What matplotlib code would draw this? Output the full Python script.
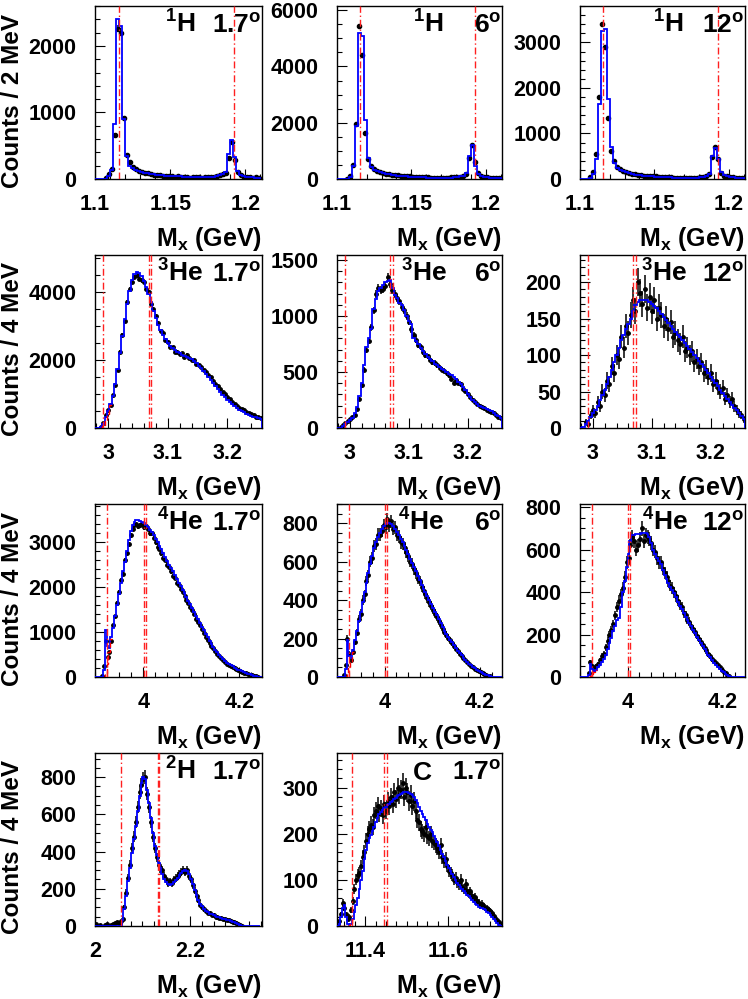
import numpy as np
import matplotlib.pyplot as plt
from matplotlib.ticker import MultipleLocator, FixedLocator

plt.rcParams.update({
    "font.family": ["Liberation Sans", "DejaVu Sans"],
    "font.weight": "bold",
    "mathtext.fontset": "custom",
    "mathtext.rm": "Liberation Sans:bold",
    "mathtext.it": "Liberation Sans:bold",
    "mathtext.bf": "Liberation Sans:bold",
    "mathtext.sf": "Liberation Sans:bold",
})

# ---------------- data (counts per bin) ----------------
# 1H target, 2 MeV bins from 1.100 GeV
h1_x0 = 1.100
h1_17_model = [0, 0, 0, 5, 40, 130, 820, 2400, 2300, 900,
               350, 200, 160, 140, 120, 105, 95, 85, 78, 72,
               66, 60, 56, 52, 48, 45, 42, 40, 38, 36,
               34, 32, 31, 30, 30, 30, 31, 32, 34, 37,
               42, 55, 70, 100, 370, 590, 330, 120, 60, 40,
               32, 28, 25, 22, 20]
h1_17_data = [0, 0, 0, 10, 70, 145, 660, 2260, 2190, 915,
              355, 255, 175, 150, 125, 110, 95, 85, 75, 65,
              55, 60, 50, 50, 40, 45, 35, 40, 30, 25,
              30, 20, 30, 25, 30, 20, 25, 30, 25, 35,
              40, 60, 80, 90, 320, 560, 290, 100, 55, 35,
              30, 25, 20, 25, 15]
h1_6_model = [0, 0, 0, 10, 60, 450, 1900, 5200, 5100, 2100,
              750, 420, 330, 280, 240, 210, 185, 165, 150, 135,
              122, 110, 100, 92, 85, 78, 72, 66, 61, 57,
              53, 50, 48, 46, 45, 45, 46, 48, 52, 58,
              70, 90, 120, 200, 800, 1200, 450, 180, 100, 70,
              55, 45, 40, 36, 33]
h1_6_data = [0, 0, 0, 15, 100, 480, 1950, 5450, 4400, 1650,
             700, 450, 340, 290, 250, 220, 190, 170, 150, 140,
             125, 115, 100, 95, 90, 80, 75, 65, 60, 55,
             55, 50, 45, 48, 40, 45, 50, 45, 55, 60,
             65, 85, 110, 180, 750, 1200, 600, 200, 110, 75,
             60, 45, 40, 35, 30]
h1_12_model = [0, 0, 0, 20, 100, 450, 1650, 3250, 3300, 1750,
               700, 350, 250, 200, 170, 145, 125, 110, 98, 88,
               80, 72, 66, 60, 55, 50, 46, 42, 39, 36,
               33, 31, 29, 27, 26, 25, 25, 26, 28, 31,
               37, 45, 60, 120, 500, 680, 450, 150, 80, 55,
               42, 35, 30, 27, 25]
h1_12_data = [0, 0, 0, 40, 150, 550, 1800, 3400, 2900, 1350,
              620, 400, 260, 210, 175, 150, 130, 115, 100, 90,
              80, 75, 65, 60, 55, 55, 45, 40, 40, 35,
              35, 30, 30, 25, 25, 25, 30, 25, 30, 30,
              35, 45, 55, 100, 480, 700, 430, 140, 75, 55,
              40, 35, 30, 25, 25]

# 3He target, 4 MeV bins from 2.978 GeV
he3_x0 = 2.978
he3_17_model = [0, 0, 20, 120, 330, 500, 700, 950, 1300, 1750,
                2200, 2700, 3200, 3650, 4050, 4350, 4550, 4600, 4580, 4480,
                4330, 4150, 3950, 3700, 3450, 3250, 3050, 2900, 2750, 2620,
                2520, 2430, 2350, 2290, 2240, 2200, 2160, 2130, 2100, 2060,
                2020, 1970, 1910, 1840, 1760, 1680, 1600, 1500, 1410, 1320,
                1230, 1140, 1060, 980, 900, 830, 760, 700, 640, 590,
                540, 500, 460, 420, 390, 360, 330, 310, 290, 270]
he3_17_data = [0, 0, 30, 150, 380, 520, 680, 980, 1280, 1700,
               2250, 2750, 3150, 3700, 4100, 4300, 4450, 4500, 4400, 4350,
               4300, 4100, 4000, 3650, 3500, 3300, 3100, 2850, 2800, 2600,
               2550, 2400, 2380, 2250, 2250, 2180, 2200, 2100, 2150, 2050,
               2000, 2000, 1900, 1850, 1800, 1700, 1650, 1550, 1500, 1400,
               1300, 1250, 1150, 1050, 1000, 920, 850, 780, 700, 660,
               600, 560, 520, 480, 440, 400, 370, 330, 310, 290]
he3_17_red = [0, 50, 200, 420, 680]
he3_17_red_x0 = 2.986
he3_6_model = [0, 0, 15, 40, 55, 70, 90, 130, 190, 290,
               400, 560, 720, 800, 880, 1060, 1150, 1220, 1250, 1280,
               1300, 1310, 1320, 1250, 1190, 1160, 1120, 1100, 1050, 1000,
               960, 930, 800, 780, 750, 710, 690, 660, 635, 615,
               595, 575, 560, 545, 530, 515, 500, 485, 470, 455,
               440, 415, 390, 365, 335, 300, 275, 250, 230, 215,
               200, 190, 180, 170, 160, 150, 135, 120, 105, 90]
he3_6_data = [0, 10, 30, 45, 60, 80, 100, 120, 170, 260,
              380, 520, 700, 780, 900, 1050, 1200, 1250, 1230, 1240,
              1270, 1350, 1290, 1230, 1200, 1160, 1130, 1080, 1050, 1000,
              950, 880, 830, 790, 740, 720, 680, 650, 640, 610,
              590, 580, 560, 540, 520, 510, 490, 470, 440, 400,
              430, 400, 390, 350, 330, 300, 280, 250, 230, 210,
              200, 190, 180, 165, 155, 140, 130, 115, 100, 90]
he3_12_model = [0, 2, 5, 10, 15, 20, 25, 30, 38, 45,
                52, 60, 70, 80, 90, 100, 110, 120, 128, 135,
                142, 150, 160, 168, 172, 175, 176, 176, 175, 173,
                170, 167, 164, 160, 156, 152, 148, 144, 140, 136,
                132, 128, 124, 120, 116, 112, 108, 104, 100, 96,
                92, 88, 84, 80, 75, 70, 66, 62, 57, 52,
                48, 44, 40, 36, 32, 28, 24, 20, 16, 13]
he3_12_data = [0, 0, 8, 5, 18, 25, 20, 35, 30, 50,
               45, 65, 60, 85, 75, 100, 95, 125, 110, 140,
               130, 155, 175, 160, 200, 185, 170, 190, 165, 180,
               160, 175, 150, 165, 155, 140, 150, 135, 145, 125,
               130, 120, 115, 125, 105, 110, 100, 105, 90, 95,
               85, 90, 75, 80, 70, 75, 60, 65, 55, 50,
               55, 40, 45, 35, 40, 30, 25, 20, 18, 12]

# 4He target, 4 MeV bins from 3.900 GeV
he4_x0 = 3.900
he4_17_model = [0, 0, 0, 0, 150, 1050, 700, 650, 880, 1100,
                1350, 1600, 1850, 2100, 2350, 2550, 2800, 3050, 3250, 3380,
                3450, 3500, 3490, 3470, 3450, 3420, 3380, 3330, 3280, 3220,
                3150, 3080, 3000, 2920, 2840, 2750, 2670, 2580, 2500, 2420,
                2350, 2260, 2180, 2100, 2020, 1940, 1860, 1780, 1700, 1620,
                1530, 1450, 1360, 1280, 1200, 1120, 1040, 960, 880, 810,
                740, 670, 610, 550, 500, 450, 400, 360, 320, 290,
                260, 235, 210, 185, 165, 145, 125, 105, 90, 75,
                60, 45, 30, 20, 10, 0, 0]
he4_17_data = [0, 0, 0, 30, 250, 800, 450, 550, 800, 1150,
               1350, 1650, 1900, 2150, 2300, 2600, 2750, 2950, 3150, 3300,
               3380, 3400, 3350, 3380, 3400, 3330, 3350, 3300, 3200, 3200,
               3100, 3000, 2900, 2850, 2750, 2650, 2600, 2500, 2450, 2350,
               2250, 2200, 2100, 2050, 1950, 1900, 1800, 1720, 1650, 1550,
               1480, 1400, 1300, 1220, 1150, 1060, 980, 900, 830, 760,
               700, 640, 580, 520, 470, 420, 380, 340, 300, 270,
               240, 220, 195, 175, 150, 135, 115, 100, 85, 70,
               55, 40, 30, 20, 10, 0, 0]
he4_17_red = [0, 100, 300, 550, 850]
he4_6_model = [0, 0, 0, 0, 40, 190, 110, 100, 140, 190,
               240, 290, 340, 390, 440, 490, 540, 590, 630, 670,
               700, 730, 750, 770, 785, 795, 800, 800, 795, 785,
               770, 755, 740, 720, 700, 680, 660, 640, 615, 595,
               570, 550, 525, 505, 480, 460, 440, 420, 400, 380,
               360, 340, 320, 300, 280, 260, 240, 225, 210, 195,
               180, 165, 150, 137, 125, 112, 100, 90, 80, 70,
               60, 52, 45, 38, 32, 26, 21, 16, 12, 8,
               5, 2, 0, 0, 0, 0, 0]
he4_6_data = [0, 0, 0, 10, 60, 200, 120, 90, 130, 180,
              230, 300, 330, 400, 430, 500, 530, 600, 620, 680,
              690, 740, 740, 760, 790, 780, 820, 790, 810, 770,
              780, 740, 730, 700, 690, 670, 650, 630, 600, 590,
              560, 540, 510, 500, 470, 450, 430, 410, 390, 370,
              350, 330, 310, 290, 270, 250, 235, 220, 205, 190,
              175, 160, 148, 135, 122, 110, 98, 88, 78, 68,
              58, 50, 43, 36, 30, 24, 19, 14, 10, 6,
              3, 0, 0, 0, 0, 0, 0]
he4_6_red = [0, 20, 50, 80, 130]
he4_12_model = [0, 0, 0, 0, 10, 60, 40, 30, 35, 45,
                55, 70, 85, 105, 130, 160, 185, 215, 240, 270,
                280, 330, 400, 450, 520, 580, 640, 670, 670, 672,
                675, 675, 678, 680, 680, 675, 660, 630, 600, 580,
                560, 545, 530, 505, 480, 460, 445, 425, 410, 395,
                375, 355, 335, 320, 300, 285, 270, 255, 240, 220,
                205, 190, 175, 160, 145, 130, 120, 105, 95, 80,
                68, 58, 48, 38, 30, 22, 15, 9, 4, 0,
                0, 0, 0, 0, 0, 0, 0]
he4_12_data = [0, 0, 0, 0, 20, 70, 50, 40, 50, 60,
               80, 100, 110, 140, 170, 200, 220, 250, 290, 330,
               360, 390, 420, 470, 540, 560, 620, 660, 640, 600,
               620, 650, 700, 640, 670, 660, 650, 630, 600, 590,
               560, 540, 540, 510, 490, 470, 450, 430, 420, 400,
               380, 360, 340, 330, 300, 290, 270, 260, 240, 225,
               210, 195, 180, 165, 150, 135, 125, 110, 100, 85,
               75, 65, 55, 45, 35, 25, 18, 10, 5, 0,
               0, 0, 0, 0, 0, 0, 0]
he4_12_red = [0, 5, 12, 22, 33]
he4_red_x0 = 3.916

# 2H target, 4 MeV bins from 2.000 GeV
h2_x0 = 2.000
h2_17_model = [0] * 14 + [
    30, 90, 160, 240, 310, 390, 470, 540, 620, 700,
    770, 800, 790, 730, 660, 580, 500, 430, 380, 340,
    310, 280, 255, 235, 225, 220, 225, 235, 245, 260,
    275, 285, 295, 300, 295, 280, 255, 225, 195, 165,
    140, 120, 105, 92, 82, 74, 67, 62, 57, 53,
    49, 46, 43, 40, 37, 34, 31, 28, 24, 20,
    16, 11, 6, 2] + [0] * 9
h2_17_data = [10, 0, 5, 0, 0, 5, 10, 0, 5, 10, 15, 20, 15, 25] + [
    40, 100, 180, 260, 330, 420, 480, 560, 640, 720,
    760, 790, 800, 710, 640, 560, 480, 420, 370, 330,
    310, 300, 270, 250, 230, 240, 230, 250, 260, 270,
    280, 290, 300, 290, 300, 270, 250, 220, 190, 160,
    140, 115, 100, 90, 80, 70, 68, 60, 58, 50,
    50, 45, 42, 40, 36, 33, 30, 28, 22, 20,
    15, 10, 5, 2] + [0] * 9

# 12C target, 4 MeV bins from 11.332 GeV
c_x0 = 11.332
c_17_model = [0, 5, 20, 40, 45, 20, 5, 3, 5, 15,
              30, 45, 60, 80, 100, 120, 145, 165, 180, 190,
              198, 205, 215, 225, 235, 243, 248, 252, 256, 259,
              262, 265, 268, 272, 275, 278, 281, 284, 286, 288,
              290, 290, 290, 288, 286, 283, 280, 274, 266, 258,
              250, 243, 236, 229, 222, 215, 209, 203, 196, 189,
              181, 173, 165, 157, 149, 141, 133, 126, 119, 112,
              106, 100, 94, 89, 84, 80, 76, 72, 68, 64,
              60, 56, 52, 48, 45, 42, 40, 38, 36, 34,
              31, 28, 24, 20, 15, 11, 7, 3, 0, 0]
c_17_data = [5, 10, 25, 50, 40, 25, 15, 20, 35, 55,
             80, 100, 110, 115, 130, 150, 160, 185, 200, 210,
             220, 215, 240, 250, 260, 245, 255, 240, 265, 250,
             270, 260, 280, 265, 290, 275, 300, 285, 295, 310,
             280, 300, 290, 270, 285, 260, 270, 250, 230, 225,
             210, 205, 200, 215, 195, 190, 200, 185, 180, 175,
             170, 160, 175, 150, 140, 145, 130, 120, 115, 110,
             100, 105, 95, 90, 100, 85, 80, 90, 75, 70,
             75, 65, 60, 62, 55, 50, 45, 48, 42, 40,
             38, 35, 32, 28, 22, 18, 12, 8, 4, 0]
c_17_red = [0, 0, 0, 0, 1, 3, 5, 15]
c_17_red_x0 = 11.340

# threshold lines (GeV)
lines_h1 = [1.1157, 1.1926]
lines_he3 = [2.9913, 3.0682, 3.0725]
lines_he4 = [3.9246, 4.0015, 4.0062]
lines_h2 = [2.0553, 2.1322, 2.1357]
lines_c = [11.3683, 11.4452, 11.4530]

# ---------------- layout ----------------
W, H = 748, 999
col_left = [95, 337, 580]
col_w = [167, 165, 165]
row_top = [6, 255, 504, 753]
ax_h = 173

fig = plt.figure(figsize=(W / 100, H / 100), dpi=100)


def make_ax(r, c):
    rect = [col_left[c] / W, 1 - (row_top[r] + ax_h) / H, col_w[c] / W, ax_h / H]
    return fig.add_axes(rect)


def panel(r, c, x0, bw, model, data, xlim, ylim, xt, xtl, xminor, yt, yminor,
          lines, nuc, nuc_x, ang, err=1.0, ms=2.5, red=None, red_x0=None):
    ax = make_ax(r, c)
    model = np.asarray(model, float)
    data = np.asarray(data, float)
    edges = x0 + bw * np.arange(len(model) + 1)
    centers = x0 + bw * (np.arange(len(data)) + 0.5)
    m = data > 0
    ax.errorbar(centers[m], data[m], yerr=np.sqrt(data[m]) * err, fmt="o",
                ms=ms, color="black", mec="black", elinewidth=1.1, capsize=0,
                zorder=2)
    ax.stairs(model, edges, color="blue", lw=1.3, zorder=3)
    if red is not None:
        red = np.asarray(red, float)
        red_edges = red_x0 + bw * np.arange(len(red) + 1)
        ax.stairs(red, red_edges, color="red", lw=1.0, ls="--", baseline=None,
                  zorder=4)
    for xv in lines:
        ax.axvline(xv, color="#ff2020", lw=1.0, ls=(0, (5, 2, 1, 2)), zorder=5)
    ax.set_xlim(*xlim)
    ax.set_ylim(*ylim)
    ax.xaxis.set_major_locator(FixedLocator(xt))
    ax.set_xticklabels(xtl)
    ax.xaxis.set_minor_locator(MultipleLocator(xminor))
    ax.yaxis.set_major_locator(FixedLocator(yt))
    ax.set_yticklabels([str(v) for v in yt])
    ax.yaxis.set_minor_locator(MultipleLocator(yminor))
    ax.tick_params(which="both", direction="in", top=False, right=False,
                   labelsize=15.5, width=0.8, colors="black")
    ax.tick_params(which="major", length=7)
    ax.tick_params(which="minor", length=3.5)
    ax.tick_params(axis="x", pad=11)
    ax.tick_params(axis="y", pad=13.5)
    for s in ax.spines.values():
        s.set_linewidth(1.0)
    ax.text(nuc_x, 0.845, nuc, transform=ax.transAxes, fontsize=19,
            ha="left", va="baseline", zorder=6)
    ax.text(0.995, 0.845, ang, transform=ax.transAxes, fontsize=19,
            ha="right", va="baseline", zorder=6)
    ax.text(1.0, -0.385, r"M$_{x}$ (GeV)", transform=ax.transAxes,
            fontsize=18, ha="right", va="baseline")
    return ax


# row 1: 1H
h1_xt = [1.1, 1.15, 1.2]
h1_xtl = ["1.1", "1.15", "1.2"]
panel(0, 0, h1_x0, 0.002, h1_17_model, h1_17_data, (1.1, 1.211), (0, 2600),
      h1_xt, h1_xtl, 0.01, [0, 1000, 2000], 200, lines_h1,
      r"$^{1}$H", 0.42, r"1.7$^{o}$", ms=3)
panel(0, 1, h1_x0, 0.002, h1_6_model, h1_6_data, (1.1, 1.211), (0, 6150),
      h1_xt, h1_xtl, 0.01, [0, 2000, 4000, 6000], 500, lines_h1,
      r"$^{1}$H", 0.46, r"6$^{o}$", ms=3)
panel(0, 2, h1_x0, 0.002, h1_12_model, h1_12_data, (1.1, 1.211), (0, 3800),
      h1_xt, h1_xtl, 0.01, [0, 1000, 2000, 3000], 200, lines_h1,
      r"$^{1}$H", 0.44, r"12$^{o}$", ms=3)

# row 2: 3He
he3_xt = [3.0, 3.1, 3.2]
he3_xtl = ["3", "3.1", "3.2"]
panel(1, 0, he3_x0, 0.004, he3_17_model, he3_17_data, (2.978, 3.258), (0, 5100),
      he3_xt, he3_xtl, 0.02, [0, 2000, 4000], 500, lines_he3,
      r"$^{3}$He", 0.37, r"1.7$^{o}$", red=he3_17_red, red_x0=he3_17_red_x0)
panel(1, 1, he3_x0, 0.004, he3_6_model, he3_6_data, (2.978, 3.258), (0, 1545),
      he3_xt, he3_xtl, 0.02, [0, 500, 1000, 1500], 100, lines_he3,
      r"$^{3}$He", 0.39, r"6$^{o}$")
panel(1, 2, he3_x0, 0.004, he3_12_model, he3_12_data, (2.978, 3.258), (0, 237),
      he3_xt, he3_xtl, 0.02, [0, 50, 100, 150, 200], 10, lines_he3,
      r"$^{3}$He", 0.37, r"12$^{o}$", err=1.4)

# row 3: 4He
he4_xt = [4.0, 4.2]
he4_xtl = ["4", "4.2"]
panel(2, 0, he4_x0, 0.004, he4_17_model, he4_17_data, (3.9, 4.247), (0, 3850),
      he4_xt, he4_xtl, 0.025, [0, 1000, 2000, 3000], 200, lines_he4,
      r"$^{4}$He", 0.37, r"1.7$^{o}$", red=he4_17_red, red_x0=he4_red_x0)
panel(2, 1, he4_x0, 0.004, he4_6_model, he4_6_data, (3.9, 4.247), (0, 900),
      he4_xt, he4_xtl, 0.025, [0, 200, 400, 600, 800], 50, lines_he4,
      r"$^{4}$He", 0.37, r"6$^{o}$", err=1.2, red=he4_6_red, red_x0=he4_red_x0)
panel(2, 2, he4_x0, 0.004, he4_12_model, he4_12_data, (3.9, 4.247), (0, 815),
      he4_xt, he4_xtl, 0.025, [0, 200, 400, 600, 800], 50, lines_he4,
      r"$^{4}$He", 0.376, r"12$^{o}$", err=1.3, red=he4_12_red, red_x0=he4_red_x0)

# row 4: 2H and 12C
panel(3, 0, h2_x0, 0.004, h2_17_model, h2_17_data, (2.0, 2.352), (0, 930),
      [2.0, 2.2], ["2", "2.2"], 0.025, [0, 200, 400, 600, 800], 50, lines_h2,
      r"$^{2}$H", 0.42, r"1.7$^{o}$", err=1.3)
panel(3, 1, c_x0, 0.004, c_17_model, c_17_data, (11.332, 11.73), (0, 375),
      [11.4, 11.6], ["11.4", "11.6"], 0.025, [0, 100, 200, 300], 20, lines_c,
      r"C", 0.46, r"1.7$^{o}$", err=1.2, red=c_17_red, red_x0=c_17_red_x0)

# y-axis titles on first column
ylabels = ["Counts / 2 MeV", "Counts / 4 MeV", "Counts / 4 MeV", "Counts / 4 MeV"]
for r, lab in enumerate(ylabels):
    yc = 1 - (row_top[r] + ax_h / 2 + 8) / H
    fig.text(13 / W, yc, lab, rotation=90, ha="center", va="center",
             fontsize=17.5)

fig.savefig("out.png", dpi=100)
